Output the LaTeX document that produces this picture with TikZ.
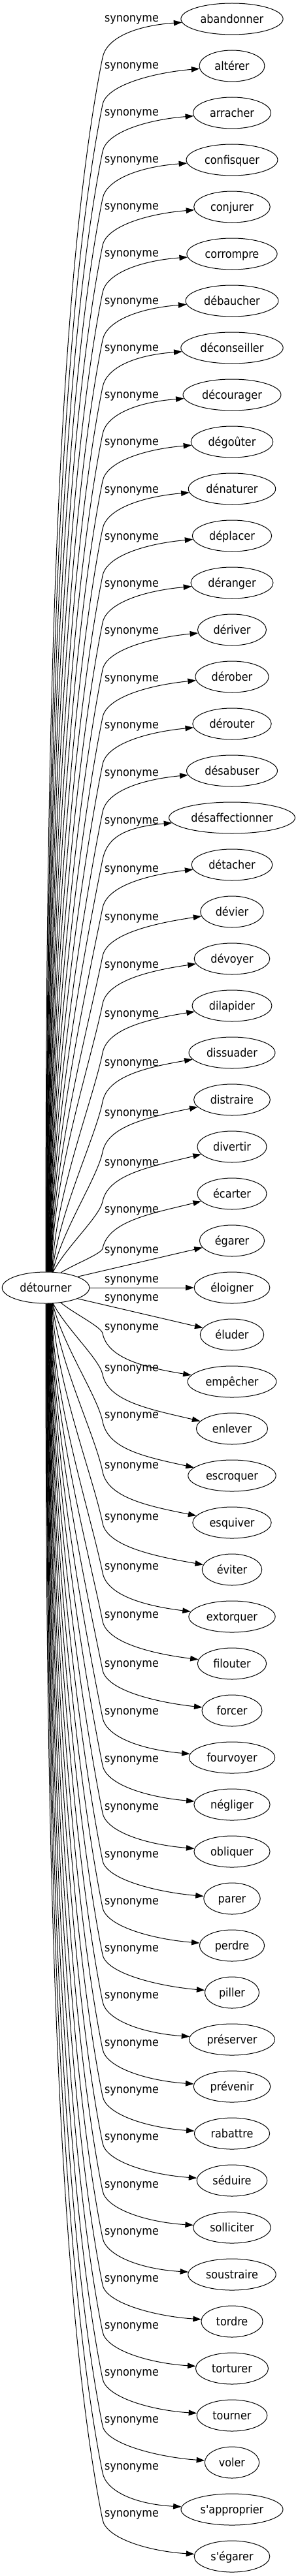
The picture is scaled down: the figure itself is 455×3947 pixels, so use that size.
\documentclass[tikz,border=0pt]{standalone}
\usepackage{fontspec}
\newfontfamily\wf{DejaVu Sans Condensed}
\usetikzlibrary{arrows.meta,calc,shapes.geometric}
\begin{document}
\begin{tikzpicture}[x=1pt,y=-1pt,
  word/.style={font=\wf\fontsize{17.8}{20}\selectfont, inner sep=0pt, anchor=base},
  oval/.style={draw, ellipse, inner sep=0pt, minimum height=48pt, line width=1pt},
  edge/.style={line width=1pt, -{Triangle[length=12.5pt,width=8.5pt]}},
  lab/.style={font=\wf\fontsize{17.8}{20}\selectfont, inner sep=0pt, anchor=base}]
\useasboundingbox (0,0) rectangle (455,3947);

\node[word] (tdet) at (70,1979.5) {détourner};
\path let \p1=($(tdet.east)-(tdet.west)$) in node[oval, minimum width={1.29*\x1+31pt}] (det) at (70,1973) {};

\foreach \i/\w in {0/abandonner,1/altérer,2/arracher,3/confisquer,4/conjurer,5/corrompre,6/débaucher,7/déconseiller,8/décourager,9/dégoûter,10/dénaturer,11/déplacer,12/déranger,13/dériver,14/dérober,15/dérouter,16/désabuser,17/désaffectionner,18/détacher,19/dévier,20/dévoyer,21/dilapider,22/dissuader,23/distraire,24/divertir,25/écarter,26/égarer,27/éloigner,28/éluder,29/empêcher,30/enlever,31/escroquer,32/esquiver,33/éviter,34/extorquer,35/filouter,36/forcer,37/fourvoyer,38/négliger,39/obliquer,40/parer,41/perdre,42/piller,43/préserver,44/prévenir,45/rabattre,46/séduire,47/solliciter,48/soustraire,49/tordre,50/torturer,51/tourner,52/voler,53/s'approprier,54/s'égarer}{
  \node[word] (t\i) at (355,35.5+72*\i) {\w};
  \path let \p1=($(t\i.east)-(t\i.west)$) in node[oval, minimum width={1.29*\x1+31pt}] (e\i) at (355,29+72*\i) {};
}

\foreach \i/\off in {0/1,1/1,2/1,3/1,4/1,5/1,6/2,7/2,8/2,9/2,10/3,11/3,12/3,13/3,14/4,15/4,16/5,17/6,18/8,19/10,20/11,21/14,22/17,23/22,24/26,25/26,26/16,27/-11,28/-55,29/-82,30/-91,31/-91,32/-86,33/-79,34/-75,35/-73,36/-70,37/-69,38/-68,39/-67,40/-66,41/-66,42/-66,43/-66,44/-65,45/-65,46/-65,47/-64,48/-64,49/-64,50/-64,51/-64,52/-64,53/-64,54/-64}{
  \pgfmathsetmacro\ty{29+72*\i}
  \pgfmathsetmacro\L{\ty+\off}
  \node[lab] (l\i) at (201.5,\L+3.5) {synonyme};
  \pgfmathtruncatemacro\curved{or(\i<26,\i>28) ? 1 : 0}
  \ifnum\curved=1
    \pgfmathsetmacro\up{\i<26 ? 1 : -1}
    \pgfmathsetmacro\Vy{\up>0 ? \L+58 : \L+8}
    \pgfmathtruncatemacro\ang{\i==25 ? 45 : (\i==29 ? -45 : (\i<26 ? 90-25*\i/24 : -(90-25*(54-\i)/24)))}
    \pgfmathsetmacro\tt{24/sqrt((cos(\ang)*0.3598)^2+(sin(\ang))^2)}
    \pgfmathsetmacro\Sx{70+\tt*cos(\ang)}
    \pgfmathsetmacro\Sy{1973-\tt*sin(\ang)}
    \pgfmathsetmacro\D{abs(\Sy-\Vy)}
    \pgfmathsetmacro\pa{0.35*\D}
    \pgfmathsetmacro\pb{min(0.215*\D,400)}
    \pgfmathsetmacro\pw{max(0,1-\D/400)}
    \pgfmathsetmacro\cAx{\Sx+\pw*0.35*(157-\Sx)}
    \pgfmathsetmacro\cAy{\Sy-\up*\pa}
    \pgfmathsetmacro\cBx{157-0.2*\pb}
    \pgfmathsetmacro\cBy{\Vy+\up*\pb}
    \pgfmathsetmacro\h{abs(\Vy-\ty)}
    \pgfmathsetmacro\pk{0.5*\h}
    \pgfmathsetmacro\cCx{157+0.2*\pk}
    \pgfmathsetmacro\cCy{\Vy-\up*\pk}
    \pgfmathsetmacro\dY{\up*(8+0.8*max(0,\h-56))}
    \coordinate (v\i) at (157,\Vy);
    \draw[edge] (det.\ang) .. controls (\cAx,\cAy) and (\cBx,\cBy) .. (v\i) .. controls (\cCx,\cCy) and ($(e\i.west)+(-70,\dY)$) .. (e\i);
  \fi
}

\draw[edge] (det.19) -- (e26);
\draw[edge] (det) -- (e27);
\draw[edge] (det.-19) -- (e28);
\end{tikzpicture}
\end{document}
